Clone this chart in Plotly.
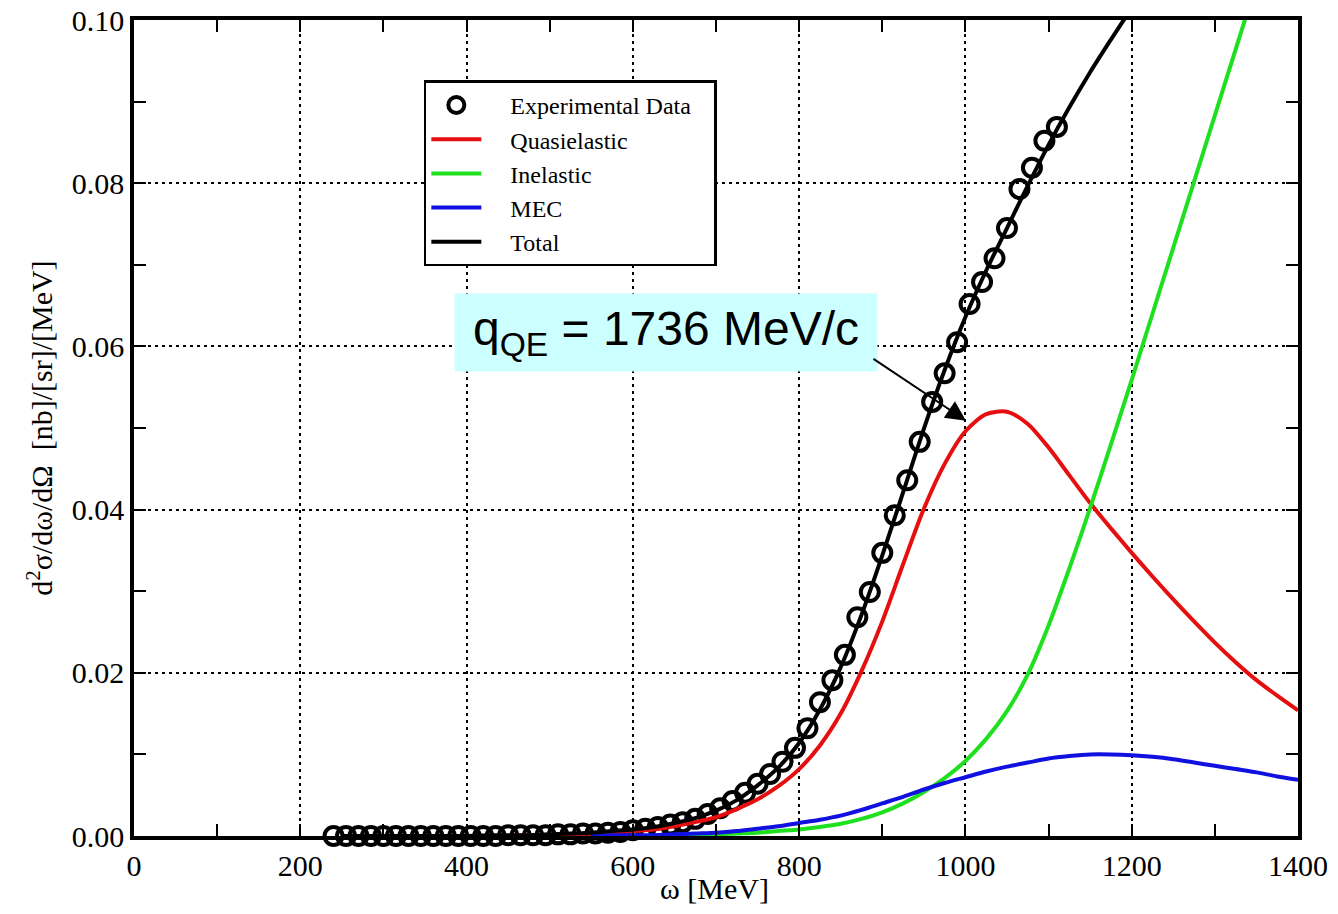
import plotly.graph_objects as go

# ---------------- data ----------------
exp_w = [240, 255, 270, 285, 300, 315, 330, 345, 360, 375, 390, 405, 420, 435, 450, 465, 480, 495,
         510, 525, 540, 555, 570, 585, 600, 615, 630, 645, 660, 675, 690, 705, 720, 735, 750, 765,
         780, 795, 810, 825, 840, 855, 870, 885, 900, 915, 930, 945, 960, 975, 990, 1005, 1020,
         1035, 1050, 1065, 1080, 1095, 1110]
exp_y = [0.0000, 0.0000, 0.0000, 0.0000, 0.0000, 0.0000, 0.0000, 0.0000, 0.0000, 0.0000, 0.0000,
         0.0000, 0.0000, 0.0000, 0.0001, 0.0001, 0.0001, 0.0001, 0.0002, 0.0002, 0.0003, 0.0003,
         0.0004, 0.0005, 0.0007, 0.0009, 0.0011, 0.0014, 0.0017, 0.0021, 0.0027, 0.0034, 0.0043,
         0.0053, 0.0064, 0.0076, 0.0091, 0.0108, 0.0132, 0.0164, 0.0191, 0.0222, 0.0268, 0.0299,
         0.0347, 0.0393, 0.0436, 0.0483, 0.0532, 0.0567, 0.0605, 0.0652, 0.0679, 0.0708, 0.0745,
         0.0793, 0.0819, 0.0852, 0.0869]

qe_w = [450, 475, 500, 525, 550, 575, 600, 625, 650, 675, 700, 725, 750, 775, 800, 825, 850, 875,
        900, 925, 950, 975, 1000, 1025, 1050, 1075, 1100, 1125, 1150, 1175, 1200, 1225, 1250,
        1275, 1300, 1325, 1350, 1375, 1400]
qe_y = [0.0000, 0.0001, 0.0001, 0.0002, 0.0003, 0.0004, 0.0006, 0.0008, 0.0012, 0.0017, 0.0023,
        0.0033, 0.0045, 0.0061, 0.0082, 0.0111, 0.0150, 0.0202, 0.0263, 0.0333, 0.0401, 0.0456,
        0.0496, 0.0517, 0.0520, 0.0505, 0.0476, 0.0442, 0.0408, 0.0377, 0.0347, 0.0318, 0.0290,
        0.0263, 0.0237, 0.0213, 0.0191, 0.0172, 0.0154]

inel_w = [600, 625, 650, 675, 700, 725, 750, 775, 800, 825, 850, 875, 900, 925, 950, 975, 1000,
          1025, 1050, 1075, 1100, 1125, 1150, 1175, 1200, 1225, 1250, 1275, 1300, 1325, 1350]
inel_y = [0.0000, 0.0000, 0.0001, 0.0001, 0.0002, 0.0003, 0.0004, 0.0006, 0.0008, 0.0011, 0.0015,
          0.0021, 0.0029, 0.0040, 0.0054, 0.0071, 0.0092, 0.0119, 0.0153, 0.0198, 0.0258, 0.0328,
          0.0402, 0.0480, 0.0559, 0.0640, 0.0721, 0.0802, 0.0883, 0.0964, 0.1045]

mec_w = [550, 575, 600, 625, 650, 675, 700, 725, 750, 775, 800, 825, 850, 875, 900, 925, 950, 975,
         1000, 1025, 1050, 1075, 1100, 1125, 1150, 1175, 1200, 1225, 1250, 1275, 1300, 1325, 1350,
         1375, 1400]
mec_y = [0.0000, 0.0001, 0.0001, 0.0001, 0.0002, 0.0003, 0.0004, 0.0006, 0.0009, 0.0012, 0.0016,
         0.0020, 0.0025, 0.0032, 0.0040, 0.0048, 0.0057, 0.0065, 0.0072, 0.0079, 0.0085, 0.0090,
         0.0095, 0.0098, 0.0100, 0.0100, 0.0099, 0.0097, 0.0094, 0.0090, 0.0086, 0.0082, 0.0078,
         0.0073, 0.0069]

tot_w = [250, 275, 300, 325, 350, 375, 400, 425, 450, 475, 500, 525, 550, 575, 600, 625, 650, 675,
         700, 725, 750, 775, 800, 825, 850, 875, 900, 925, 950, 975, 1000, 1025, 1050, 1075, 1100,
         1125, 1150, 1175, 1200]
tot_y = [0.0000, 0.0000, 0.0000, 0.0000, 0.0000, 0.0000, 0.0000, 0.0001, 0.0001, 0.0001, 0.0002,
         0.0003, 0.0004, 0.0006, 0.0008, 0.0011, 0.0016, 0.0022, 0.0031, 0.0044, 0.0062, 0.0084,
         0.0114, 0.0155, 0.0207, 0.0271, 0.0344, 0.0421, 0.0499, 0.0571, 0.0636, 0.0693, 0.0745,
         0.0797, 0.0847, 0.0893, 0.0936, 0.0976, 0.1015]

x_ticks = [0, 200, 400, 600, 800, 1000, 1200, 1400]
y_ticks = [0.00, 0.02, 0.04, 0.06, 0.08, 0.10]
y_ticklabels = ["0.00", "0.02", "0.04", "0.06", "0.08", "0.10"]

SERIF = "Liberation Serif"
SANS = "Liberation Sans"
PAD = "\u00a0\u00a0\u00a0\u00a0"
TAIL = "\u00a0\u00a0\u00a0"

fig = go.Figure()

fig.add_trace(go.Scatter(
    x=exp_w, y=exp_y, mode="markers", name=PAD + "Experimental Data" + TAIL,
    marker=dict(symbol="circle-open", size=18, color="black", line=dict(width=4, color="black")),
    cliponaxis=False))
fig.add_trace(go.Scatter(x=qe_w, y=qe_y, mode="lines", name=PAD + "Quasielastic",
                         line=dict(color="#e60f0f", width=4, shape="spline", smoothing=0.8)))
fig.add_trace(go.Scatter(x=inel_w, y=inel_y, mode="lines", name=PAD + "Inelastic",
                         line=dict(color="#1ee01e", width=4, shape="spline", smoothing=0.8)))
fig.add_trace(go.Scatter(x=mec_w, y=mec_y, mode="lines", name=PAD + "MEC",
                         line=dict(color="#1010e0", width=4, shape="spline", smoothing=0.8)))
fig.add_trace(go.Scatter(x=tot_w, y=tot_y, mode="lines", name=PAD + "Total",
                         line=dict(color="black", width=4, shape="spline", smoothing=0.8)))

axis_common = dict(
    showline=True, linecolor="black", linewidth=3.5, mirror="allticks",
    ticks="inside", ticklen=12, tickwidth=2, tickcolor="black",
    showgrid=True, gridcolor="black", gridwidth=2.2, griddash="3px,4px",
    zeroline=False, automargin=False,
    tickfont=dict(family=SERIF, size=30, color="black"),
)

fig.update_xaxes(range=[0, 1400], tickvals=x_ticks,
                 minor=dict(ticks="inside", ticklen=12, tickwidth=2, tickcolor="black",
                            dtick=100, tick0=0, showgrid=False),
                 **axis_common)
fig.update_yaxes(range=[0, 0.10], tickvals=y_ticks, ticktext=y_ticklabels,
                 minor=dict(ticks="inside", ticklen=12, tickwidth=2, tickcolor="black",
                            dtick=0.01, tick0=0, showgrid=False),
                 **axis_common)

fig.update_layout(
    width=1338, height=914,
    margin=dict(l=134, r=40, t=20, b=78),
    paper_bgcolor="white", plot_bgcolor="white",
    font=dict(family=SERIF, color="black"),
    showlegend=True,
    legend=dict(
        x=0.249, y=0.926, xanchor="left", yanchor="top",
        bgcolor="white", bordercolor="black", borderwidth=2.5,
        font=dict(family=SERIF, size=24, color="black"),
        tracegroupgap=0, itemwidth=50,
    ),
    annotations=[
        dict(text="ω [MeV]", xref="paper", yref="paper", x=0.499, y=-0.064,
             xanchor="center", yanchor="middle", showarrow=False,
             font=dict(family=SERIF, size=30, color="black")),
        dict(text="d<sup>2</sup>σ/dω/dΩ  [nb]/[sr]/[MeV]", xref="paper", yref="paper",
             x=-0.081, y=0.5, xanchor="center", yanchor="middle", textangle=-90,
             showarrow=False, font=dict(family=SERIF, size=30, color="black")),
        dict(text="q<sub>QE</sub> = 1736 MeV/c", xref="x", yref="y", x=640, y=0.0617,
             xanchor="center", yanchor="middle", showarrow=False,
             bgcolor="#ccffff", borderpad=0, width=422, height=77,
             align="center", valign="middle",
             font=dict(family=SANS, size=48, color="black")),
        dict(text="", xref="x", yref="y", x=1000.7, y=0.0509,
             axref="x", ayref="y", ax=887.6, ay=0.0586,
             showarrow=True, arrowhead=2, arrowsize=2, arrowwidth=2, arrowcolor="black"),
    ],
)

fig.write_html("out.html")
